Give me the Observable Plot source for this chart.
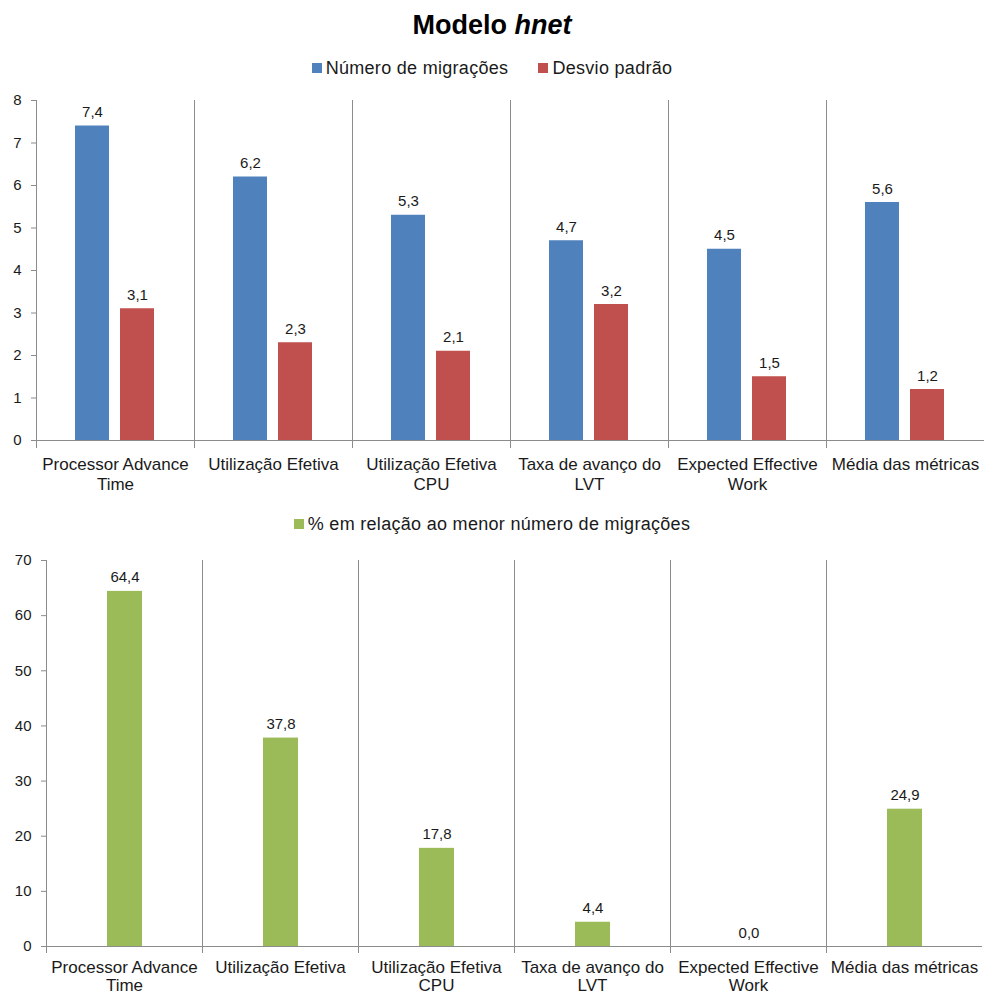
<!DOCTYPE html>
<html>
<head>
<meta charset="utf-8">
<script src="https://cdn.jsdelivr.net/npm/d3@7"></script>
<script src="https://cdn.jsdelivr.net/npm/@observablehq/plot@0.6"></script>
<style>
  body { margin: 0; background: #fff; font-family: "Liberation Sans", Arial, sans-serif; }
  #wrap { position: relative; width: 984px; height: 996px; overflow: hidden; }
  .title { position: absolute; left: 0; top: 8px; width: 984px; text-align: center; font-size: 27px; font-weight: bold; line-height: 34px; color: #000; }
  .legend { position: absolute; left: 0; width: 984px; height: 24px; display: flex; justify-content: center; align-items: center; font-size: 18px; color: #1a1a1a; letter-spacing: 0.3px; }
  .item { display: flex; align-items: center; margin: 0 15px; }
  .sw { width: 10px; height: 10px; margin-right: 4px; }
  .chart { position: absolute; left: 0; }
</style>
</head>
<body>
<div id="wrap">
  <div class="title">Modelo <i>hnet</i></div>
  <div class="legend" id="legend1" style="top:56px"></div>
  <div class="chart" id="chart1" style="top:88px"></div>
  <div class="legend" id="legend2" style="top:512px"></div>
  <div class="chart" id="chart2" style="top:548px"></div>
</div>
<script>
// ---- data ----
const categories = ["Processor Advance Time", "Utilização Efetiva", "Utilização Efetiva CPU", "Taxa de avanço do LVT", "Expected Effective Work", "Média das métricas"];
const categoryLabels = ["Processor Advance\nTime", "Utilização Efetiva", "Utilização Efetiva\nCPU", "Taxa de avanço do\nLVT", "Expected Effective\nWork", "Média das métricas"];
const seriesTop = ["Número de migrações", "Desvio padrão"];
const migrations = [7.4, 6.2, 5.3, 4.7, 4.5, 5.6];
const stdDev = [3.1, 2.3, 2.1, 3.2, 1.5, 1.2];
const seriesBottom = ["% em relação ao menor número de migrações"];
const percent = [64.4, 37.8, 17.8, 4.4, 0.0, 24.9];
const yTicksTop = [0, 1, 2, 3, 4, 5, 6, 7, 8];
const yTicksBottom = [0, 10, 20, 30, 40, 50, 60, 70];
const colorsTop = ["#4F81BD", "#C0504D"];
const colorsBottom = ["#9BBB59"];

const gray = "#8c8c8c";
const fmt = v => v.toFixed(1).replace(".", ",");
const labelOf = d => categoryLabels[categories.indexOf(d)];

const dataTop = [];
categories.forEach((c, i) => {
  dataTop.push({category: c, series: seriesTop[0], value: migrations[i]});
  dataTop.push({category: c, series: seriesTop[1], value: stdDev[i]});
});
const dataBottom = categories.map((c, i) => ({category: c, series: seriesBottom[0], value: percent[i]}));

function legend(el, names, colors) {
  const root = document.getElementById(el);
  names.forEach((n, i) => {
    const it = document.createElement("div");
    it.className = "item";
    it.innerHTML = `<div class="sw" style="background:${colors[i]}"></div><span>${n}</span>`;
    root.appendChild(it);
  });
}
legend("legend1", seriesTop, colorsTop);
legend("legend2", seriesBottom, colorsBottom);

const style = {fontFamily: "'Liberation Sans', Arial, sans-serif", fontSize: "15px", color: "#1a1a1a", background: "#fff", overflow: "visible"};

const chart1 = Plot.plot({
  width: 984, height: 412,
  marginTop: 12, marginBottom: 60, marginLeft: 35, marginRight: 0,
  style,
  fx: {domain: categories, padding: 0, label: null, axis: null},
  x: {domain: seriesTop, paddingInner: 0.234, paddingOuter: 0.864, axis: null},
  y: {domain: [0, 8], label: null},
  color: {domain: seriesTop, range: colorsTop},
  marks: [
    Plot.frame({anchor: "left", stroke: gray, insetBottom: -7}),
    Plot.barY(dataTop, {fx: "category", x: "series", y: "value", fill: "series"}),
    Plot.text(dataTop, {fx: "category", x: "series", y: "value", text: d => fmt(d.value), dy: -9, lineAnchor: "bottom", fontSize: 15, fill: "#1a1a1a"}),
    Plot.ruleY([0], {stroke: gray}),
    Plot.axisY({ticks: yTicksTop, tickSize: 5, tickPadding: 10, stroke: gray, label: null, fontSize: 15, tickFormat: d => d}),
    Plot.axisFx({anchor: "bottom", tickSize: 0, tickPadding: 16, tickFormat: labelOf, lineHeight: 1.15, fontSize: 17, label: null})
  ]
});
document.getElementById("chart1").appendChild(chart1);

const chart2 = Plot.plot({
  width: 984, height: 448,
  marginTop: 12, marginBottom: 50, marginLeft: 44, marginRight: 0,
  style,
  fx: {domain: categories, padding: 0, label: null, axis: null},
  x: {domain: seriesBottom, paddingInner: 0, paddingOuter: 1.68, axis: null},
  y: {domain: [0, 70], label: null},
  color: {domain: seriesBottom, range: colorsBottom},
  marks: [
    Plot.frame({anchor: "left", stroke: gray, insetBottom: -6}),
    Plot.barY(dataBottom, {fx: "category", x: "series", y: "value", fill: "series"}),
    Plot.text(dataBottom, {fx: "category", x: "series", y: "value", text: d => fmt(d.value), dy: -9, lineAnchor: "bottom", fontSize: 15, fill: "#1a1a1a"}),
    Plot.ruleY([0], {stroke: gray}),
    Plot.axisY({ticks: yTicksBottom, tickSize: 5, tickPadding: 10, stroke: gray, label: null, fontSize: 15, tickFormat: d => d}),
    Plot.axisFx({anchor: "bottom", tickSize: 0, tickPadding: 13, tickFormat: labelOf, lineHeight: 1.08, fontSize: 17, label: null})
  ]
});
document.getElementById("chart2").appendChild(chart2);
</script>
</body>
</html>
